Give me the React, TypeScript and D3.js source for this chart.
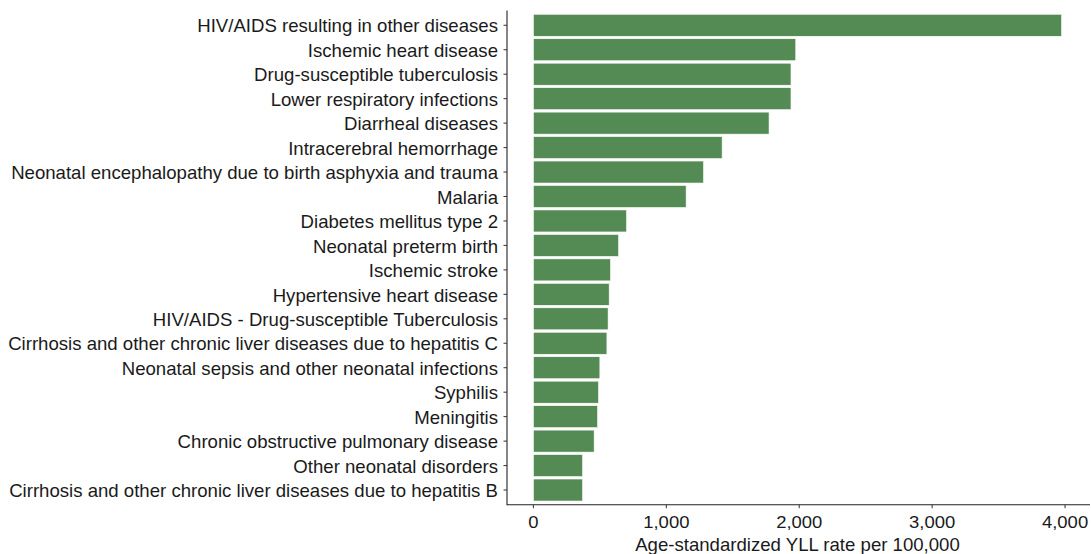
import React from "react";
import * as d3 from "d3";

const categories = [
  "HIV/AIDS resulting in other diseases",
  "Ischemic heart disease",
  "Drug-susceptible tuberculosis",
  "Lower respiratory infections",
  "Diarrheal diseases",
  "Intracerebral hemorrhage",
  "Neonatal encephalopathy due to birth asphyxia and trauma",
  "Malaria",
  "Diabetes mellitus type 2",
  "Neonatal preterm birth",
  "Ischemic stroke",
  "Hypertensive heart disease",
  "HIV/AIDS - Drug-susceptible Tuberculosis",
  "Cirrhosis and other chronic liver diseases due to hepatitis C",
  "Neonatal sepsis and other neonatal infections",
  "Syphilis",
  "Meningitis",
  "Chronic obstructive pulmonary disease",
  "Other neonatal disorders",
  "Cirrhosis and other chronic liver diseases due to hepatitis B",
];

const values = [
  3974, 1974, 1938, 1938, 1773, 1420, 1280, 1149, 701, 641, 580, 570, 562,
  553, 500, 490, 483, 457, 370, 370,
];

const xTicks = [0, 1000, 2000, 3000, 4000];
const xTitle = "Age-standardized YLL rate per 100,000";

const W = 1091;
const H = 554;
const FONT = "'Liberation Sans', Arial, sans-serif";
const TEXT = "#1a1a1a";

export default function App() {
  const maxV = d3.max(values) as number;
  const x = d3
    .scaleLinear()
    .domain([-0.05 * maxV, 1.05 * maxV])
    .range([507, 1088]);
  const y = d3
    .scaleBand<string>()
    .domain(categories)
    .range([10.6, 504.7])
    .paddingInner(0.1)
    .paddingOuter(0.15);
  const fmt = d3.format(",");
  const [px0, px1] = x.range();
  const [py0, py1] = y.range();

  return (
    <svg
      width={W}
      height={H}
      style={{ position: "absolute", left: 0, top: 0, background: "#fff" }}
      fontFamily={FONT}
    >
      {categories.map((c, i) => (
        <rect
          key={c}
          x={x(0)}
          y={y(c)}
          width={x(values[i]) - x(0)}
          height={y.bandwidth()}
          fill="#548B54"
          stroke="#ffffff"
          strokeWidth={0.6}
        />
      ))}
      {/* y axis */}
      <line x1={px0} x2={px0} y1={py0} y2={py1 + 0.5} stroke="#222" strokeWidth={1.1} />
      {categories.map((c) => {
        const cy = (y(c) as number) + y.bandwidth() / 2;
        return (
          <g key={c}>
            <line x1={px0 - 3.5} x2={px0} y1={cy} y2={cy} stroke="#333" strokeWidth={1} />
            <text
              x={px0 - 9}
              y={cy + 7.2}
              textAnchor="end"
              fontSize={18.6}
              fill={TEXT}
            >
              {c}
            </text>
          </g>
        );
      })}
      {/* x axis */}
      <line x1={px0} x2={px1 + 2} y1={py1} y2={py1} stroke="#222" strokeWidth={1.1} />
      {xTicks.map((t) => (
        <g key={t}>
          <line x1={x(t)} x2={x(t)} y1={py1} y2={py1 + 3.5} stroke="#333" strokeWidth={1} />
          <text
            transform={`translate(${x(t)},528) scale(1.12,1)`}
            textAnchor="middle"
            fontSize={16.5}
            fill={TEXT}
          >
            {fmt(t)}
          </text>
        </g>
      ))}
      <text
        x={(px0 + px1) / 2}
        y={550.5}
        textAnchor="middle"
        fontSize={18.6}
        fill={TEXT}
      >
        {xTitle}
      </text>
    </svg>
  );
}
